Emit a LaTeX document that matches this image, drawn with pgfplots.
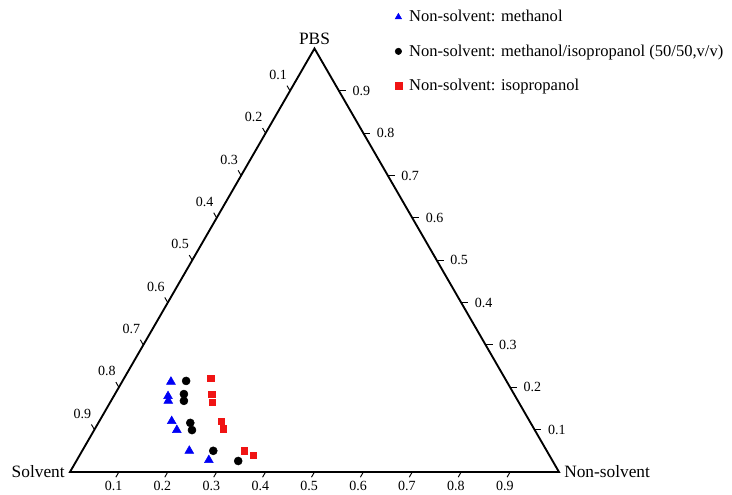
\documentclass[border=0pt]{standalone}
\usepackage{fontspec}
\setmainfont{Liberation Serif}
\usepackage{pgfplots}
\usepackage{pgfplotstable}
\pgfplotsset{compat=1.18}
\usetikzlibrary{calc}

\definecolor{mblue}{RGB}{0,0,245}
\definecolor{mred}{RGB}{240,20,20}

\pgfplotsset{
  legtri/.style={legend image code/.code={\draw[##1, mark size=2.8pt] plot coordinates {(0cm,0cm)};}},
  legcirc/.style={legend image code/.code={\draw[##1, mark size=2.4pt] plot coordinates {(0cm,0cm)};}},
  legsq/.style={legend image code/.code={\draw[##1, mark size=2.6pt] plot coordinates {(0cm,0cm)};}},
}

% ternary data: ns = non-solvent fraction, pbs = PBS fraction (solvent = rest)
\pgfplotstableread{
ns pbs
0.100 0.213
0.111 0.179
0.117 0.168
0.148 0.120
0.169 0.099
0.219 0.050
0.270 0.028
}\methanol
\pgfplotstableread{
ns pbs
0.130 0.215
0.141 0.184
0.149 0.168
0.188 0.116
0.200 0.099
0.268 0.050
0.331 0.026
}\mixture
\pgfplotstableread{
ns pbs
0.177 0.222
0.198 0.184
0.208 0.165
0.249 0.120
0.262 0.102
0.331 0.050
0.354 0.040
}\isoprop

\begin{document}
\begin{tikzpicture}
\begin{axis}[
  scale only axis,
  width=549pt, height=370.5pt,
  xmin=-0.1431, xmax=1.3538,
  ymin=-0.0450, ymax=0.9652,
  axis lines=none,
  clip=false,
  legend cell align=left,
  legend style={at={(axis cs:0.664,0.950)}, anchor=north west, draw=none, fill=none,
    font=\fontsize{12.4}{15}\selectfont, row sep=11.6pt, inner sep=0pt,
    nodes={inner sep=2pt}},
  /tikz/every odd column/.append style={column sep=3.5pt},
]
% triangle frame
\addplot[black, line width=1.4pt, line join=miter, forget plot] coordinates {(0,0) (1,0) (0.5,0.866025)} -- cycle;

% ticks and tick labels
\pgfplotsinvokeforeach{1,...,9}{
  \draw[line width=0.7pt] (axis cs:0.#1,0) -- ++(240:4.5pt);
  \node[inner sep=0pt, anchor=north, font=\fontsize{10.5}{12}\selectfont]
     at ([xshift=-4pt,yshift=-7pt]axis cs:0.#1,0) {0.#1};
  \draw[line width=0.7pt] ($(axis cs:0.5,0.866025)!0.#1!(axis cs:0,0)$) -- ++(120:4.5pt);
  \node[inner sep=0pt, anchor=center, font=\fontsize{10.5}{12}\selectfont]
     at ($(axis cs:0.5,0.866025)!0.#1!(axis cs:0,0) + (-9pt,12pt)$) {0.#1};
  \draw[line width=0.7pt] ($(axis cs:1,0)!0.#1!(axis cs:0.5,0.866025)$) -- ++(0:5.2pt);
  \node[inner sep=0pt, anchor=west, font=\fontsize{10.5}{12}\selectfont]
     at ($(axis cs:1,0)!0.#1!(axis cs:0.5,0.866025) + (10pt,0pt)$) {0.#1};
}

% corner labels
\node[inner sep=0pt, anchor=south, font=\fontsize{13}{15}\selectfont] at ([yshift=3pt]axis cs:0.5,0.866025) {PBS};
\node[inner sep=0pt, anchor=base east, font=\fontsize{13}{15}\selectfont] at ([xshift=-3.75pt,yshift=-4.3pt]axis cs:0,0) {Solvent};
\node[inner sep=0pt, anchor=base west, font=\fontsize{13}{15}\selectfont] at ([xshift=3.75pt,yshift=-4.3pt]axis cs:1,0) {Non-solvent};

% data
\addplot[only marks, mark=triangle*, color=mblue, mark size=3.8pt, legtri]
  table[x expr={\thisrow{ns}+0.5*\thisrow{pbs}}, y expr={0.866025*\thisrow{pbs}}] {\methanol};
\addlegendentry{Non-solvent: methanol}
\addplot[only marks, mark=*, color=black, mark size=3pt, legcirc]
  table[x expr={\thisrow{ns}+0.5*\thisrow{pbs}}, y expr={0.866025*\thisrow{pbs}}] {\mixture};
\addlegendentry{Non-solvent: methanol/isopropanol (50/50,v/v)}
\addplot[only marks, mark=square*, color=mred, mark size=2.3pt, legsq]
  table[x expr={\thisrow{ns}+0.5*\thisrow{pbs}}, y expr={0.866025*\thisrow{pbs}}] {\isoprop};
\addlegendentry{Non-solvent: isopropanol}
\end{axis}
\pgfresetboundingbox
\path (current axis.south west) rectangle (current axis.north east);
\end{tikzpicture}
\end{document}
